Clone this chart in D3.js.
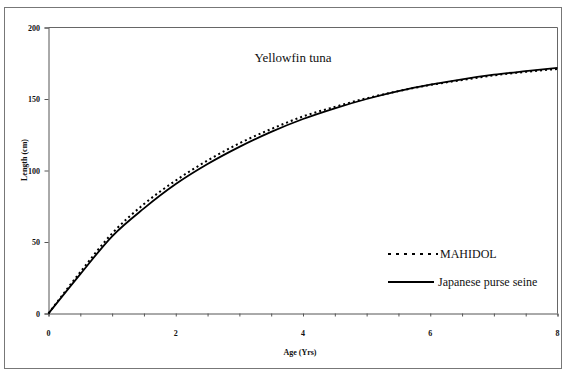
<!DOCTYPE html>
<html lang="en">
<head>
    <meta charset="UTF-8">
    <title>Yellowfin tuna</title>
    <script src="https://d3js.org/d3.v7.min.js"></script>
    <style>
        body { margin: 0; background: #fff; }
    </style>
</head>
<body>
    <svg id="chart" width="566" height="371"></svg>

    <script>
        // ages, half-year steps
        var ages = [0, 0.5, 1, 1.5, 2, 2.5, 3, 3.5, 4, 4.5, 5, 5.5, 6, 6.5, 7, 7.5, 8];
        // lengths (cm)
        var mahidol = [0, 29, 56, 76.5, 93, 107, 119, 129, 137.8, 144.5, 150.5, 155.5, 159.8, 163.3, 166.5, 169, 171];
        var japanese = [0, 27.5, 54, 73.5, 90.5, 104.5, 116.5, 127, 136, 143.5, 150, 155.5, 160, 163.8, 167, 169.5, 171.8];
        var xTicks = [0, 2, 4, 6, 8];
        var yTicks = [0, 50, 100, 150, 200];
        var seriesNames = ["MAHIDOL", "Japanese purse seine"];

        var serif = "'Liberation Serif', 'Times New Roman', 'DejaVu Serif', serif";

        var svg = d3.select("#chart")
            .attr("font-family", serif);

        // outer frame
        svg.append("rect")
            .attr("x", 4.5).attr("y", 7.5)
            .attr("width", 557).attr("height", 361)
            .attr("fill", "none")
            .attr("stroke", "#777")
            .attr("stroke-width", 1);

        var x = d3.scaleLinear().domain([0, 8]).range([48.5, 557.5]);
        var y = d3.scaleLinear().domain([0, 200]).range([313.5, 27.5]);

        // plot border (top and right)
        svg.append("path")
            .attr("d", "M" + x(0) + "," + y(200) + "H" + x(8) + "V" + y(0))
            .attr("fill", "none")
            .attr("stroke", "#666")
            .attr("stroke-width", 1);

        // x axis: minor ticks every half year, labels on even years
        var xAxis = svg.append("g")
            .attr("transform", "translate(0," + y(0) + ")")
            .call(d3.axisBottom(x).tickValues(ages).tickSize(3).tickFormat(""));
        xAxis.select(".domain").attr("stroke", "#555");
        xAxis.selectAll(".tick line").attr("stroke", "#555");

        svg.selectAll(".xlab")
            .data(xTicks)
            .join("text")
            .attr("class", "xlab")
            .attr("x", d => x(d))
            .attr("y", 336)
            .attr("text-anchor", "middle")
            .attr("font-family", serif)
            .attr("font-size", "8px")
            .attr("font-weight", "bold")
            .attr("fill", "#111")
            .text(d => d);

        var yAxis = svg.append("g")
            .attr("transform", "translate(" + x(0) + ",0)")
            .call(d3.axisLeft(y).tickValues(yTicks).tickSize(4).tickFormat(""));
        yAxis.select(".domain").attr("stroke", "#555");
        yAxis.selectAll(".tick line").attr("stroke", "#555");

        svg.selectAll(".ylab")
            .data(yTicks)
            .join("text")
            .attr("class", "ylab")
            .attr("x", 40)
            .attr("y", d => y(d) + 3)
            .attr("text-anchor", "end")
            .attr("font-family", serif)
            .attr("font-size", "8px")
            .attr("font-weight", "bold")
            .attr("fill", "#111")
            .text(d => d);

        // axis titles
        svg.append("text")
            .attr("x", 300).attr("y", 355)
            .attr("text-anchor", "middle")
            .attr("font-family", serif)
            .attr("font-size", "8px")
            .attr("font-weight", "bold")
            .attr("fill", "#111")
            .text("Age (Yrs)");

        svg.append("text")
            .attr("transform", "translate(27,160) rotate(-90)")
            .attr("text-anchor", "middle")
            .attr("font-family", serif)
            .attr("font-size", "8px")
            .attr("font-weight", "bold")
            .attr("fill", "#111")
            .text("Length (cm)");

        svg.append("text")
            .attr("x", 293).attr("y", 62)
            .attr("text-anchor", "middle")
            .attr("font-family", serif)
            .attr("font-size", "13px")
            .attr("fill", "#111")
            .text("Yellowfin tuna");

        // curves
        var line = d3.line()
            .x((d, i) => x(ages[i]))
            .y(d => y(d))
            .curve(d3.curveMonotoneX);

        svg.append("path")
            .datum(mahidol)
            .attr("d", line)
            .attr("fill", "none")
            .attr("stroke", "#000")
            .attr("stroke-width", 2)
            .attr("stroke-dasharray", "2,3");

        svg.append("path")
            .datum(japanese)
            .attr("d", line)
            .attr("fill", "none")
            .attr("stroke", "#000")
            .attr("stroke-width", 1.8);

        // legend
        var legend = svg.selectAll(".leg")
            .data(seriesNames)
            .join("g")
            .attr("class", "leg")
            .attr("transform", (d, i) => "translate(388," + (254 + i * 28) + ")");

        legend.append("line")
            .attr("x1", 0).attr("x2", (d, i) => i == 0 ? 50 : 46)
            .attr("y1", 0).attr("y2", 0)
            .attr("stroke", "#000")
            .attr("stroke-width", 2)
            .attr("stroke-dasharray", (d, i) => i == 0 ? "3,5" : null);

        legend.append("text")
            .attr("x", (d, i) => i == 0 ? 52 : 50)
            .attr("y", 4)
            .attr("font-family", serif)
            .attr("font-size", "12px")
            .attr("fill", "#111")
            .text(d => d);
    </script>
</body>
</html>
